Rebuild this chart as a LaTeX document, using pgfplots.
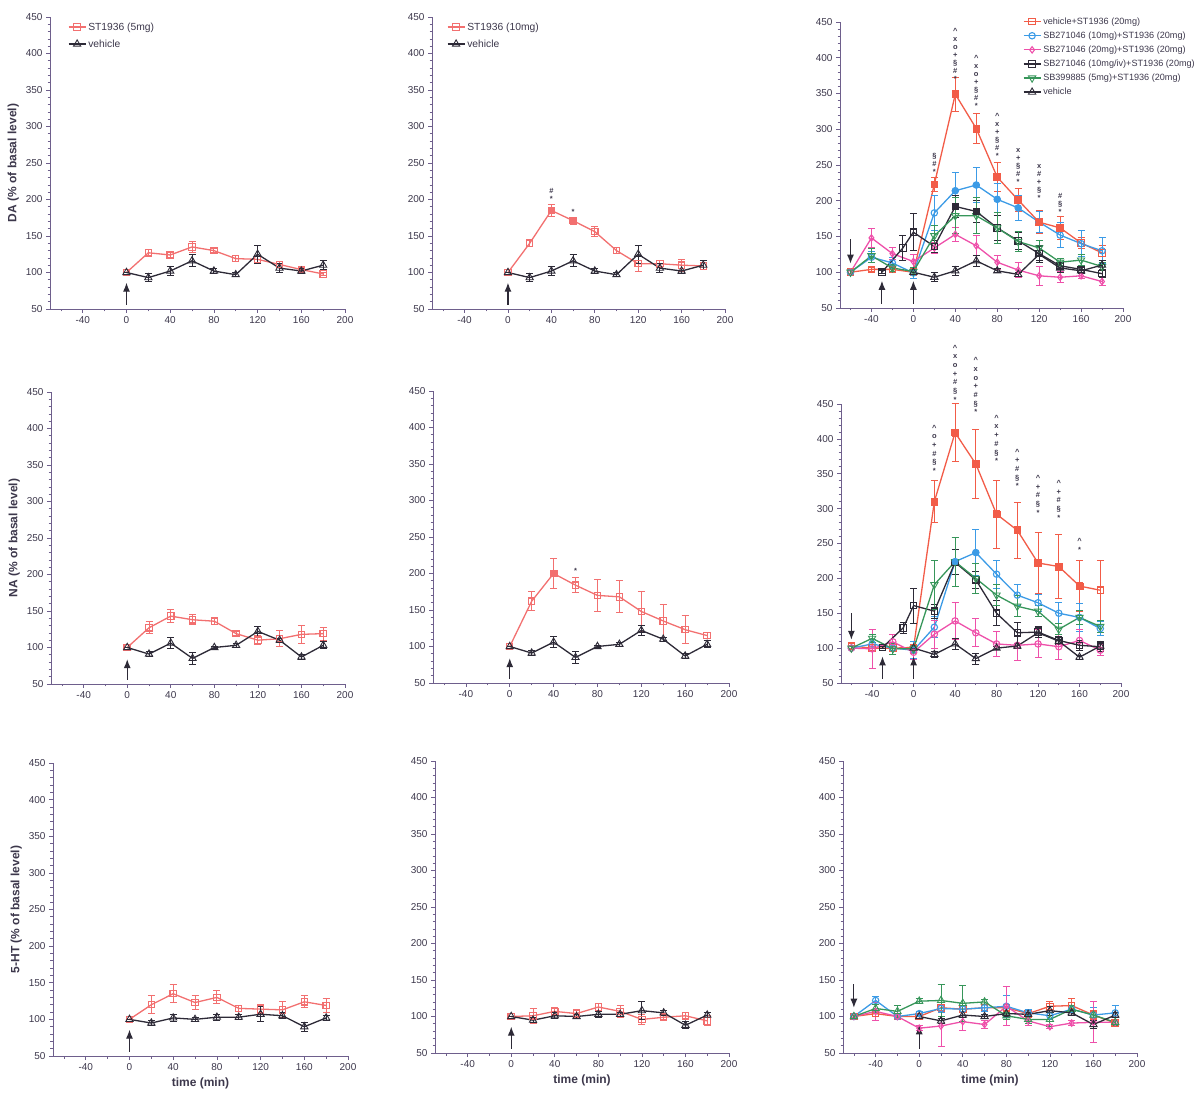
\documentclass[border=0pt]{standalone}
\usepackage{fontspec}
\setmainfont{Liberation Sans}
\usepackage{pgfplots}
\pgfplotsset{compat=1.18}
\usetikzlibrary{arrows.meta}
\definecolor{axisc}{RGB}{110,95,140}
\definecolor{textc}{RGB}{60,55,75}
\definecolor{redL}{RGB}{242,112,112}
\definecolor{redR}{RGB}{242,92,72}
\definecolor{blueR}{RGB}{60,155,230}
\definecolor{pinkR}{RGB}{238,80,170}
\definecolor{darkR}{RGB}{45,42,55}
\definecolor{greenR}{RGB}{55,150,90}
\tikzset{
 arr/.style={-{Latex[length=9pt,width=7pt]}, line width=1.1pt, darkR},
 ann/.style={font=\bfseries\fontsize{7.5}{8}\selectfont, align=center, inner sep=0pt, text=textc, anchor=south},
 annB/.style={font=\bfseries\fontsize{7.5}{8.7}\selectfont, align=center, inner sep=0pt, text=textc, anchor=south},
}
\pgfplotsset{
 panel/.style={scale only axis, xmin=-70, xmax=200, ymin=50, ymax=450,
  axis x line*=bottom, axis y line*=left,
  xtick={-40,0,40,80,120,160,200}, minor xtick={-60,-20,20,60,100,140,180},
  ytick={50,100,...,450}, minor y tick num=4, tick align=outside,
  axis line style={axisc, line width=0.8pt}, tick style={axisc, line width=0.7pt},
  major tick length=4pt, minor tick length=2.5pt,
  tick label style={font=\fontsize{10}{11}\selectfont, text=textc},
  /pgf/number format/assume math mode=true, clip=false,
  label style={font=\bfseries\fontsize{12}{13}\selectfont, text=textc},
  legend cell align=left,
  legend style={draw=none, fill=none, font=\fontsize{10.3}{11}\selectfont, text=textc, row sep=4pt}},
 ser/.style={line width=1.3pt, mark size=3.2pt, mark options={solid, fill=white, line width=1.1pt},
  /pgfplots/error bars/y dir=both, /pgfplots/error bars/y explicit,
  /pgfplots/error bars/error bar style={line width=1pt},
  /pgfplots/error bars/error mark options={rotate=90, line width=1pt, mark size=3.5pt}},
 tri/.style={mark=triangle, every mark/.append style={mark size=4.2pt, line width=0.9pt}},
 fillm/.style={only marks, mark size=3.2pt, forget plot},
}
\begin{document}
\begin{tikzpicture}
\path[use as bounding box] (0,0) rectangle (1204pt,1095pt);

% ---------------- Row 1: DA ----------------
\begin{axis}[panel, at={(50pt,786pt)}, anchor=south west, width=295pt, height=292pt,
  ylabel={DA (\% of basal level)}, legend style={at={(0.05,0.995)}, anchor=north west}]
\addplot[ser, redL, mark=square] coordinates {(0,100)+-(0,0) (20,127)+-(0,4) (40,124)+-(0,3) (60,135)+-(0,7) (80,130)+-(0,3) (100,119)+-(0,4) (120,118)+-(0,4) (140,111)+-(0,4) (160,104)+-(0,3) (180,98)+-(0,2)};
\addplot[ser, darkR, tri] coordinates {(0,100)+-(0,0) (20,93)+-(0,6) (40,102)+-(0,6) (60,116)+-(0,8) (80,102)+-(0,3) (100,97)+-(0,3) (120,125)+-(0,12) (140,106)+-(0,6) (160,102)+-(0,4) (180,110)+-(0,6)};
\legend{ST1936 (5mg), vehicle}
\draw[arr] (axis cs:0,56) -- (axis cs:0,86);
\end{axis}

\begin{axis}[panel, at={(432pt,786pt)}, anchor=south west, width=293pt, height=292pt,
  legend style={at={(0.04,0.995)}, anchor=north west}]
\addplot[ser, redL, mark=square] coordinates {(0,100)+-(0,0) (20,140)+-(0,5) (40,185)+-(0,8) (60,171)+-(0,5) (80,156)+-(0,7) (100,130)+-(0,4) (120,112)+-(0,10) (140,112)+-(0,5) (160,110)+-(0,8) (180,109)+-(0,5)};
\addplot[ser, darkR, tri] coordinates {(0,100)+-(0,0) (20,93)+-(0,6) (40,102)+-(0,6) (60,116)+-(0,8) (80,102)+-(0,3) (100,97)+-(0,3) (120,125)+-(0,12) (140,106)+-(0,6) (160,102)+-(0,4) (180,110)+-(0,6)};
\addplot[fillm, redL, mark=square*] coordinates {(40,185) (60,171)};
\legend{ST1936 (10mg), vehicle}
\draw[arr] (axis cs:0,56) -- (axis cs:0,86);
\node[ann] at (axis cs:40,197) {\#\\*};
\node[ann] at (axis cs:60,179) {*};
\end{axis}

\begin{axis}[panel, at={(840pt,787pt)}, anchor=south west, width=283pt, height=286pt,
  legend style={at={(0.635,1.03)}, anchor=north west, font=\fontsize{9.1}{10}\selectfont, row sep=2pt}]
\addplot[ser, redR, mark=square] coordinates {(-60,100)+-(0,2) (-40,104)+-(0,3) (-20,104)+-(0,3) (0,100)+-(0,3) (20,223)+-(0,10) (40,349)+-(0,24) (60,301)+-(0,21) (80,233)+-(0,20) (100,201)+-(0,16) (120,170)+-(0,16) (140,162)+-(0,16) (160,141)+-(0,8) (180,127)+-(0,10)};
\addplot[ser, blueR, mark=o] coordinates {(-60,100)+-(0,2) (-40,121)+-(0,8) (-20,113)+-(0,8) (0,99)+-(0,8) (20,183)+-(0,25) (40,214)+-(0,25) (60,222)+-(0,25) (80,202)+-(0,22) (100,190)+-(0,18) (120,170)+-(0,15) (140,152)+-(0,18) (160,140)+-(0,18) (180,130)+-(0,18)};
\addplot[ser, pinkR, mark=diamond] coordinates {(-60,100)+-(0,2) (-40,148)+-(0,13) (-20,126)+-(0,8) (0,115)+-(0,10) (20,134)+-(0,8) (40,153)+-(0,10) (60,137)+-(0,14) (80,114)+-(0,10) (100,103)+-(0,10) (120,95)+-(0,13) (140,93)+-(0,8) (160,95)+-(0,4) (180,87)+-(0,5)};
\addplot[ser, darkR, mark=square] coordinates {(-30,100)+-(0,2) (-10,134)+-(0,18) (0,156)+-(0,26) (20,136)+-(0,8) (40,192)+-(0,15) (60,185)+-(0,15) (80,162)+-(0,18) (100,144)+-(0,12) (120,126)+-(0,10) (140,109)+-(0,5) (160,104)+-(0,5) (180,98)+-(0,5)};
\addplot[ser, greenR, tri, every mark/.append style={rotate=180}] coordinates {(-60,100)+-(0,2) (-40,123)+-(0,10) (-20,106)+-(0,5) (0,101)+-(0,5) (20,151)+-(0,15) (40,179)+-(0,25) (60,179)+-(0,25) (80,162)+-(0,22) (100,143)+-(0,14) (120,134)+-(0,10) (140,114)+-(0,5) (160,117)+-(0,8) (180,108)+-(0,5)};
\addplot[ser, darkR, tri] coordinates {(0,100)+-(0,0) (20,93)+-(0,6) (40,102)+-(0,6) (60,116)+-(0,8) (80,102)+-(0,3) (100,97)+-(0,3) (120,125)+-(0,12) (140,106)+-(0,6) (160,102)+-(0,4) (180,110)+-(0,6)};
\addplot[fillm, redR, mark=square*] coordinates {(20,223) (40,349) (60,301) (80,233) (100,201) (120,170) (140,162)};
\addplot[fillm, blueR, mark=*] coordinates {(40,214) (60,222) (80,202) (100,190)};
\addplot[fillm, darkR, mark=square*] coordinates {(40,192) (60,185)};
\legend{vehicle+ST1936 (20mg), SB271046 (10mg)+ST1936 (20mg), SB271046 (20mg)+ST1936 (20mg), SB271046 (10mg/iv)+ST1936 (20mg), SB399885 (5mg)+ST1936 (20mg), vehicle}
\draw[arr] (axis cs:-60,146) -- (axis cs:-60,112);
\draw[arr] (axis cs:-30,56) -- (axis cs:-30,88);
\draw[arr] (axis cs:0,56) -- (axis cs:0,88);
\node[ann] at (axis cs:20,236) {\S\\\#\\*};
\node[ann] at (axis cs:40,366) {\textasciicircum\\x\\o\\+\\\S\\\#\\*};
\node[ann] at (axis cs:60,329) {\textasciicircum\\x\\o\\+\\\S\\\#\\*};
\node[ann] at (axis cs:80,259) {\textasciicircum\\x\\+\\\S\\\#\\*};
\node[ann] at (axis cs:100,223) {x\\+\\\S\\\#\\*};
\node[ann] at (axis cs:120,200) {x\\\#\\+\\\S\\*};
\node[ann] at (axis cs:140,181) {\#\\\S\\*};
\end{axis}

% ---------------- Row 2: NA ----------------
\begin{axis}[panel, at={(51pt,411pt)}, anchor=south west, width=294pt, height=292pt,
  ylabel={NA (\% of basal level)}]
\addplot[ser, redL, mark=square] coordinates {(0,100)+-(0,0) (20,127)+-(0,8) (40,143)+-(0,9) (60,138)+-(0,7) (80,136)+-(0,5) (100,119)+-(0,3) (120,110)+-(0,6) (140,112)+-(0,11) (160,118)+-(0,12) (180,119)+-(0,9)};
\addplot[ser, darkR, tri] coordinates {(0,100)+-(0,0) (20,91)+-(0,4) (40,106)+-(0,8) (60,85)+-(0,8) (80,100)+-(0,2) (100,103)+-(0,3) (120,122)+-(0,7) (140,110)+-(0,3) (160,87)+-(0,3) (180,103)+-(0,5)};
\draw[arr] (axis cs:0,56) -- (axis cs:0,84);
\end{axis}

\begin{axis}[panel, at={(433pt,412pt)}, anchor=south west, width=296pt, height=292pt]
\addplot[ser, redL, mark=square] coordinates {(0,100)+-(0,0) (20,162)+-(0,13) (40,200)+-(0,20) (60,184)+-(0,10) (80,170)+-(0,22) (100,168)+-(0,22) (120,148)+-(0,27) (140,135)+-(0,22) (160,123)+-(0,19) (180,115)+-(0,4)};
\addplot[ser, darkR, tri] coordinates {(0,100)+-(0,0) (20,91)+-(0,4) (40,106)+-(0,8) (60,85)+-(0,8) (80,100)+-(0,2) (100,103)+-(0,3) (120,122)+-(0,7) (140,110)+-(0,3) (160,87)+-(0,3) (180,103)+-(0,5)};
\addplot[fillm, redL, mark=square*] coordinates {(40,200)};
\draw[arr] (axis cs:0,56) -- (axis cs:0,84);
\node[ann] at (axis cs:60,200) {*};
\end{axis}

\begin{axis}[panel, at={(841pt,412pt)}, anchor=south west, width=280pt, height=279pt]
\addplot[ser, redR, mark=square] coordinates {(-60,103)+-(0,3) (-40,100)+-(0,3) (-20,100)+-(0,3) (0,101)+-(0,8) (20,310)+-(0,30) (40,409)+-(0,42) (60,364)+-(0,49) (80,292)+-(0,49) (100,269)+-(0,40) (120,222)+-(0,44) (140,217)+-(0,46) (160,189)+-(0,37) (180,183)+-(0,43)};
\addplot[ser, blueR, mark=o] coordinates {(-60,100)+-(0,2) (-40,106)+-(0,6) (-20,100)+-(0,5) (0,97)+-(0,12) (20,130)+-(0,15) (40,224)+-(0,35) (60,237)+-(0,33) (80,206)+-(0,20) (100,176)+-(0,15) (120,165)+-(0,12) (140,150)+-(0,15) (160,144)+-(0,20) (180,128)+-(0,10)};
\addplot[ser, pinkR, mark=o] coordinates {(-60,100)+-(0,2) (-40,99)+-(0,28) (-20,109)+-(0,10) (0,94)+-(0,10) (20,120)+-(0,20) (40,139)+-(0,27) (60,122)+-(0,20) (80,106)+-(0,18) (100,104)+-(0,22) (120,106)+-(0,20) (140,102)+-(0,18) (160,111)+-(0,15) (180,97)+-(0,8)};
\addplot[ser, darkR, mark=square] coordinates {(-30,101)+-(0,2) (-10,129)+-(0,8) (0,161)+-(0,25) (20,153)+-(0,10) (40,223)+-(0,18) (60,198)+-(0,12) (80,150)+-(0,18) (100,122)+-(0,15) (120,123)+-(0,8) (140,111)+-(0,6) (160,104)+-(0,7) (180,102)+-(0,7)};
\addplot[ser, greenR, tri, every mark/.append style={rotate=180}] coordinates {(-60,100)+-(0,2) (-40,114)+-(0,6) (-20,99)+-(0,8) (0,99)+-(0,5) (20,191)+-(0,35) (40,224)+-(0,35) (60,200)+-(0,22) (80,176)+-(0,15) (100,160)+-(0,15) (120,153)+-(0,8) (140,127)+-(0,8) (160,144)+-(0,10) (180,131)+-(0,8)};
\addplot[ser, darkR, tri] coordinates {(0,100)+-(0,0) (20,91)+-(0,4) (40,106)+-(0,8) (60,85)+-(0,8) (80,100)+-(0,2) (100,103)+-(0,3) (120,122)+-(0,7) (140,110)+-(0,3) (160,87)+-(0,3) (180,103)+-(0,5)};
\addplot[fillm, redR, mark=square*] coordinates {(20,310) (40,409) (60,364) (80,292) (100,269) (120,222) (140,217) (160,189)};
\addplot[fillm, blueR, mark=*] coordinates {(40,224) (60,237)};
\draw[arr] (axis cs:-60,150) -- (axis cs:-60,112);
\draw[arr] (axis cs:-30,56) -- (axis cs:-30,88);
\draw[arr] (axis cs:0,56) -- (axis cs:0,88);
\node[annB] at (axis cs:20,350) {\textasciicircum\\o\\+\\\#\\\S\\*};
\node[annB] at (axis cs:40,452) {\textasciicircum\\x\\o\\+\\\#\\\S\\*};
\node[annB] at (axis cs:60,434) {\textasciicircum\\x\\o\\+\\\#\\\S\\*};
\node[annB] at (axis cs:80,364) {\textasciicircum\\x\\+\\\#\\\S\\*};
\node[annB] at (axis cs:100,328) {\textasciicircum\\+\\\#\\\S\\*};
\node[annB] at (axis cs:120,290) {\textasciicircum\\+\\\#\\\S\\*};
\node[annB] at (axis cs:140,283) {\textasciicircum\\+\\\#\\\S\\*};
\node[annB] at (axis cs:160,237) {\textasciicircum\\*};
\end{axis}

% ---------------- Row 3: 5-HT ----------------
\begin{axis}[panel, at={(53pt,39pt)}, anchor=south west, width=295pt, height=293pt,
  ylabel={5-HT (\% of basal level)}, xlabel={time (min)}]
\addplot[ser, redL, mark=square] coordinates {(0,100)+-(0,0) (20,120)+-(0,12) (40,135)+-(0,12) (60,123)+-(0,9) (80,130)+-(0,9) (100,115)+-(0,4) (120,114)+-(0,6) (140,113)+-(0,11) (160,124)+-(0,8) (180,119)+-(0,10)};
\addplot[ser, darkR, tri] coordinates {(0,100)+-(0,0) (20,95)+-(0,3) (40,102)+-(0,5) (60,100)+-(0,3) (80,103)+-(0,4) (100,103)+-(0,3) (120,107)+-(0,10) (140,105)+-(0,4) (160,90)+-(0,6) (180,102)+-(0,3)};
\draw[arr] (axis cs:0,56) -- (axis cs:0,86);
\end{axis}

\begin{axis}[panel, at={(435pt,42pt)}, anchor=south west, width=294pt, height=292pt,
  xlabel={time (min)}]
\addplot[ser, redL, mark=square] coordinates {(0,100)+-(0,0) (20,101)+-(0,10) (40,107)+-(0,5) (60,104)+-(0,5) (80,113)+-(0,5) (100,107)+-(0,8) (120,96)+-(0,7) (140,99)+-(0,3) (160,101)+-(0,4) (180,94)+-(0,7)};
\addplot[ser, darkR, tri] coordinates {(0,100)+-(0,0) (20,95)+-(0,3) (40,101)+-(0,4) (60,100)+-(0,3) (80,103)+-(0,4) (100,103)+-(0,3) (120,108)+-(0,12) (140,105)+-(0,3) (160,88)+-(0,5) (180,102)+-(0,3)};
\draw[arr] (axis cs:0,56) -- (axis cs:0,86);
\end{axis}

\begin{axis}[panel, at={(843pt,42pt)}, anchor=south west, width=294pt, height=292pt,
  xlabel={time (min)}]
\addplot[ser, redR, mark=square] coordinates {(-60,100)+-(0,2) (-40,104)+-(0,4) (-20,100)+-(0,3) (0,100)+-(0,3) (20,112)+-(0,5) (40,110)+-(0,5) (60,112)+-(0,5) (80,112)+-(0,5) (100,104)+-(0,5) (120,114)+-(0,6) (140,115)+-(0,10) (160,102)+-(0,6) (180,91)+-(0,4)};
\addplot[ser, blueR, mark=o] coordinates {(-60,100)+-(0,2) (-40,122)+-(0,6) (-20,100)+-(0,3) (0,104)+-(0,3) (20,111)+-(0,5) (40,110)+-(0,8) (60,112)+-(0,5) (80,114)+-(0,15) (100,105)+-(0,5) (120,101)+-(0,5) (140,110)+-(0,5) (160,102)+-(0,10) (180,105)+-(0,10)};
\addplot[ser, pinkR, mark=diamond] coordinates {(-60,100)+-(0,2) (-40,107)+-(0,12) (-20,100)+-(0,3) (0,84)+-(0,3) (20,87)+-(0,28) (40,93)+-(0,12) (60,89)+-(0,5) (80,114)+-(0,27) (100,94)+-(0,6) (120,86)+-(0,3) (140,91)+-(0,3) (160,92)+-(0,28) (180,92)+-(0,3)};
\addplot[ser, greenR, tri] coordinates {(-60,100)+-(0,2) (-40,111)+-(0,5) (-20,107)+-(0,8) (0,121)+-(0,3) (20,122)+-(0,22) (40,118)+-(0,25) (60,120)+-(0,3) (80,101)+-(0,5) (100,96)+-(0,5) (120,96)+-(0,10) (140,110)+-(0,5) (160,102)+-(0,5) (180,92)+-(0,4)};
\addplot[ser, darkR, tri] coordinates {(0,100)+-(0,0) (20,94)+-(0,3) (40,102)+-(0,4) (60,100)+-(0,3) (80,104)+-(0,4) (100,103)+-(0,3) (120,108)+-(0,6) (140,105)+-(0,3) (160,89)+-(0,5) (180,102)+-(0,3)};
\draw[arr] (axis cs:-60,144) -- (axis cs:-60,112);
\draw[arr] (axis cs:0,56) -- (axis cs:0,88);
\end{axis}
\end{tikzpicture}
\end{document}
